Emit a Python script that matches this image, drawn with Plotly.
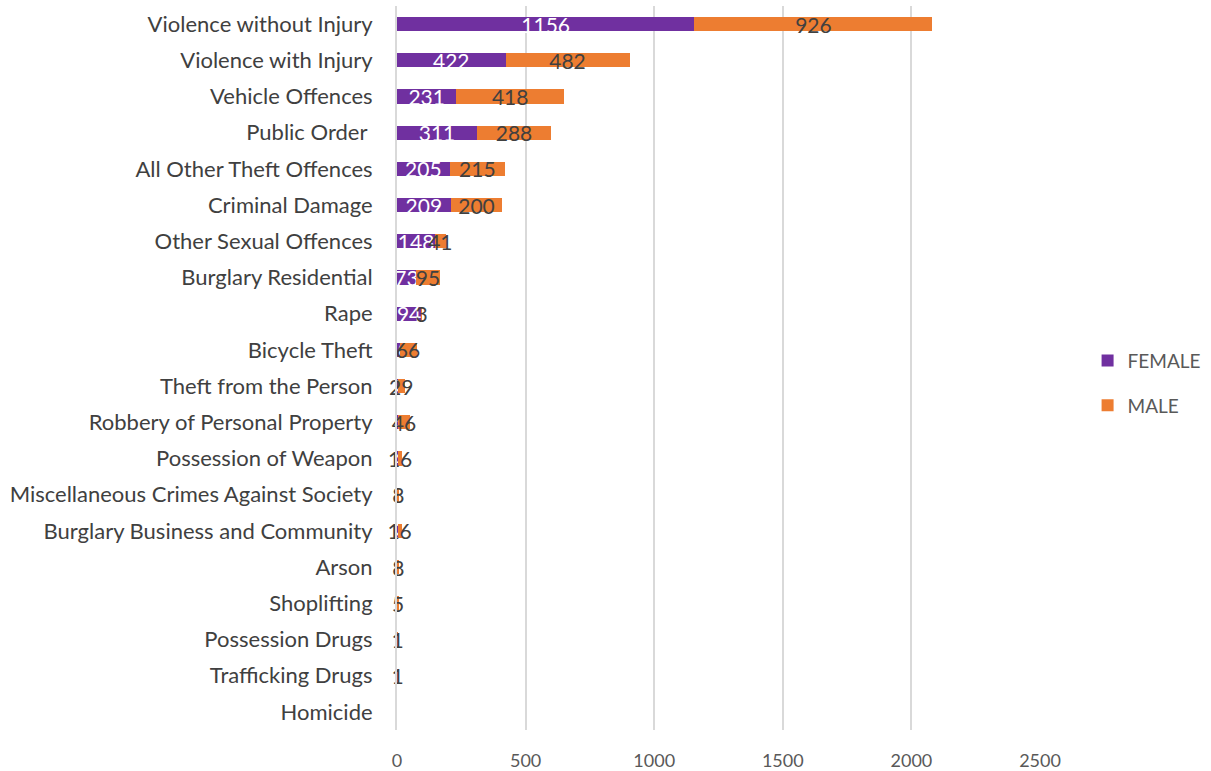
import plotly.graph_objects as go

# Offence categories, listed top to bottom
categories = [
    "Violence without Injury", "Violence with Injury", "Vehicle Offences",
    "Public Order\u00a0", "All Other Theft Offences", "Criminal Damage",
    "Other Sexual Offences", "Burglary Residential", "Rape", "Bicycle Theft",
    "Theft from the Person", "Robbery of Personal Property",
    "Possession of Weapon", "Miscellaneous Crimes Against Society",
    "Burglary Business and Community", "Arson", "Shoplifting",
    "Possession Drugs", "Trafficking Drugs", "Homicide",
]

female = [1156, 422, 231, 311, 205, 209, 148, 73, 94, 10, 2, 4, 4, 1, 2, 1, 0, 0, 0, 0]
male = [926, 482, 418, 288, 215, 200, 41, 95, 3, 66, 29, 46, 16, 8, 16, 8, 5, 1, 1, 0]

x_ticks = [0, 500, 1000, 1500, 2000, 2500]

PURPLE = "#7030A0"
ORANGE = "#ED7D31"
FONT = "Lato"


def labels(values):
    return [str(v) if v else "" for v in values]


fig = go.Figure()
fig.add_trace(go.Bar(
    y=categories, x=female, orientation="h", name="FEMALE",
    marker=dict(color=PURPLE, line=dict(width=0)),
    text=labels(female), textposition="inside", insidetextanchor="middle",
    constraintext="none", textangle=0, cliponaxis=False,
    textfont=dict(family=FONT, size=21, color="white"),
    legendgroup="f", hoverinfo="x+y",
))
fig.add_trace(go.Bar(
    y=categories, x=male, orientation="h", name="MALE",
    marker=dict(color=ORANGE, line=dict(width=0)),
    text=labels(male), textposition="inside", insidetextanchor="middle",
    constraintext="none", textangle=0, cliponaxis=False,
    textfont=dict(family=FONT, size=21, color="#404040"),
    legendgroup="m", hoverinfo="x+y",
))

fig.update_layout(
    width=1211, height=771,
    margin=dict(l=397, r=171, t=6, b=41, autoexpand=False),
    barmode="stack", bargap=0.61,
    paper_bgcolor="white", plot_bgcolor="white",
    font=dict(family=FONT, color="#595959"),
    showlegend=True,
    legend=dict(
        x=1.074, y=0.479, xanchor="left", yanchor="middle",
        traceorder="grouped", tracegroupgap=17,
        font=dict(family=FONT, size=19, color="#595959"),
        itemwidth=30,
    ),
    xaxis=dict(
        range=[0, 2500], tickvals=x_ticks, ticktext=[str(t) for t in x_ticks],
        showgrid=True, gridcolor="#D9D9D9", gridwidth=2,
        zeroline=False, showline=False, ticks="",
        tickfont=dict(family=FONT, size=18, color="#595959"),
        ticklabelstandoff=18,
    ),
    yaxis=dict(
        autorange="reversed", showgrid=False, zeroline=False,
        showline=True, linecolor="#D9D9D9", linewidth=2, ticks="",
        tickfont=dict(family=FONT, size=22, color="#404040"),
        ticklabelstandoff=18,
    ),
)

fig.write_html("out.html")
